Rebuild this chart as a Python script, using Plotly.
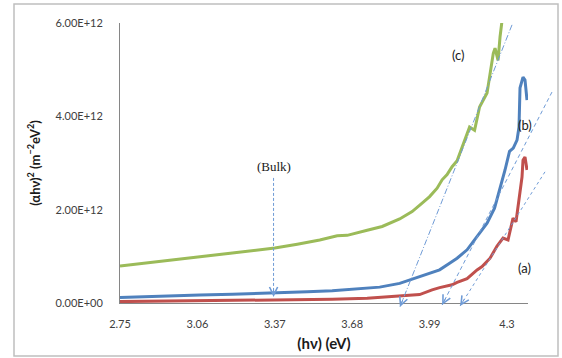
import plotly.graph_objects as go

# ---------------- data (values in units of 1e12 m^-2 eV^2) ----------------
green_x = [2.75, 2.90, 3.07, 3.20, 3.37, 3.46, 3.55, 3.62, 3.66, 3.74, 3.80, 3.87, 3.92, 3.96,
           3.99, 4.02, 4.04, 4.06, 4.08, 4.10, 4.12, 4.15, 4.17, 4.18, 4.19, 4.22, 4.235, 4.245,
           4.252, 4.264, 4.272, 4.28]
green_y = [0.79, 0.89, 0.99, 1.07, 1.18, 1.26, 1.35, 1.44, 1.45, 1.56, 1.64, 1.80, 1.96, 2.14,
           2.28, 2.46, 2.64, 2.75, 2.92, 3.05, 3.34, 3.77, 3.70, 3.92, 4.20, 4.50, 5.00, 5.35,
           5.46, 5.20, 5.70, 6.05]

blue_x = [2.75, 2.90, 3.07, 3.20, 3.37, 3.50, 3.60, 3.70, 3.79, 3.87, 3.95, 4.03, 4.07, 4.10,
          4.14, 4.18, 4.22, 4.25, 4.272, 4.292, 4.31, 4.325, 4.34, 4.348, 4.352, 4.364, 4.372, 4.38]
blue_y = [0.12, 0.15, 0.17, 0.19, 0.21, 0.24, 0.26, 0.30, 0.34, 0.42, 0.56, 0.71, 0.85, 0.96,
          1.14, 1.42, 1.71, 2.03, 2.45, 2.85, 3.25, 3.32, 3.49, 3.77, 4.61, 4.84, 4.78, 4.35]

red_x = [2.75, 3.07, 3.25, 3.47, 3.60, 3.74, 3.87, 3.95, 4.00, 4.03, 4.08, 4.10, 4.14, 4.18,
         4.20, 4.232, 4.26, 4.284, 4.304, 4.324, 4.336, 4.348, 4.36, 4.364, 4.372, 4.38]
red_y = [0.03, 0.05, 0.06, 0.06, 0.08, 0.10, 0.15, 0.18, 0.28, 0.33, 0.39, 0.44, 0.52, 0.71,
         0.78, 0.96, 1.22, 1.39, 1.35, 1.82, 1.74, 2.21, 2.70, 3.06, 3.13, 2.85]

# tangent lines: (top point, arrow head) in eV / 1e12 units
tangent_c = [(4.320, 5.96), (3.871, -0.086)]
tangent_b = [(4.480, 4.52), (4.040, -0.043)]
tangent_a = [(4.452, 2.81), (4.112, -0.064)]
bulk_line = [(3.365, 2.68), (3.365, 0.13)]

x_tickvals = [2.75, 3.06, 3.37, 3.68, 3.99, 4.3]
x_ticktext = ["2.75", "3.06", "3.37", "3.68", "3.99", "4.3"]
y_tickvals = [0, 2, 4, 6]
y_ticktext = ["0.00E+00", "2.00E+12", "4.00E+12", "6.00E+12"]

SCALE = 1e12
XR = [2.75, 4.384]
YR = [0, 6]

# ---------------- layout geometry ----------------
W, H = 562, 358
ML, MR, MT, MB = 120, 34, 23, 55
PW, PH = W - ML - MR, H - MT - MB


def px(x):
    return (x - XR[0]) / (XR[1] - XR[0])


def py(y):
    return (y - YR[0]) / (YR[1] - YR[0])


GREEN = "#9bbb59"
BLUE = "#4f81bd"
RED = "#c0504d"
TAN = "#6f9bd6"
FONT = "Lato, Liberation Sans, sans-serif"

fig = go.Figure()
for xs, ys, col in [(red_x, red_y, RED), (blue_x, blue_y, BLUE), (green_x, green_y, GREEN)]:
    fig.add_trace(go.Scatter(x=xs, y=[v * SCALE for v in ys], mode="lines",
                             line=dict(color=col, width=3), showlegend=False,
                             hoverinfo="skip"))

shapes = []
annotations = []

# outer frame
shapes.append(dict(type="rect", xref="paper", yref="paper",
                   x0=(14 - ML) / PW, x1=(558 - ML) / PW,
                   y0=(H - MB - 356) / PH, y1=(H - MB - 4) / PH,
                   line=dict(color="#bfbfbf", width=1.5), fillcolor="rgba(0,0,0,0)"))

for (top, head), dash in [(tangent_c, "6px,2px,1px,2px"), (tangent_b, "4px,3px"),
                          (tangent_a, "3px,3px"), (bulk_line, "3px,2px")]:
    shapes.append(dict(type="line", xref="paper", yref="paper",
                       x0=px(top[0]), y0=py(top[1]), x1=px(head[0]), y1=py(head[1]),
                       line=dict(color=TAN, width=1, dash=dash)))
    # short arrow at the lower end, pointing along the line
    dxp = (px(top[0]) - px(head[0])) * PW
    dyp = -(py(top[1]) - py(head[1])) * PH
    n = (dxp ** 2 + dyp ** 2) ** 0.5
    annotations.append(dict(xref="paper", yref="paper", axref="pixel", ayref="pixel",
                            x=px(head[0]), y=py(head[1]),
                            ax=dxp / n * 10, ay=dyp / n * 10,
                            showarrow=True, arrowhead=5, arrowsize=1.6, arrowwidth=1,
                            arrowcolor=TAN, text=""))

label_font = dict(family=FONT, size=13, color="#1a1a1a")
for txt, x, y in [("(c)", 4.140, 5.53), ("(b)", 4.408, 3.82), ("(a)", 4.404, 0.54)]:
    annotations.append(dict(xref="paper", yref="paper", x=px(x), y=py(y), text=txt,
                            showarrow=False, font=label_font))
annotations.append(dict(xref="paper", yref="paper", x=px(3.365), y=py(2.92), text="(Bulk)",
                        showarrow=False,
                        font=dict(family="Liberation Serif, serif", size=13, color="#1a1a1a")))

fig.update_layout(
    width=W, height=H,
    margin=dict(l=ML, r=MR, t=MT, b=MB),
    paper_bgcolor="white", plot_bgcolor="white",
    shapes=shapes, annotations=annotations,
    font=dict(family=FONT, size=11, color="#404040"),
    xaxis=dict(range=[XR[0], XR[1]], tickvals=x_tickvals, ticktext=x_ticktext,
               showgrid=False, zeroline=False, showline=True, linecolor="#868686",
               linewidth=1, ticks="", ticklabelstandoff=11, automargin=False,
               tickfont=dict(size=11, color="#404040"),
               title=dict(text="<b>(hν) (eV)</b>", standoff=9,
                          font=dict(size=15, color="#1a1a1a"))),
    yaxis=dict(range=[YR[0] * SCALE, YR[1] * SCALE],
               tickvals=[v * SCALE for v in y_tickvals], ticktext=y_ticktext,
               showgrid=False, zeroline=False, showline=True, linecolor="#868686",
               linewidth=1, ticks="", ticklabelstandoff=14, automargin=False,
               tickfont=dict(size=11, color="#404040"),
               title=dict(text="<b>(αhν)<sup>2</sup> (m<sup>−2</sup>eV<sup>2</sup>)</b>",
                          standoff=12, font=dict(size=13, color="#1a1a1a"))),
)

fig.write_html("out.html")
